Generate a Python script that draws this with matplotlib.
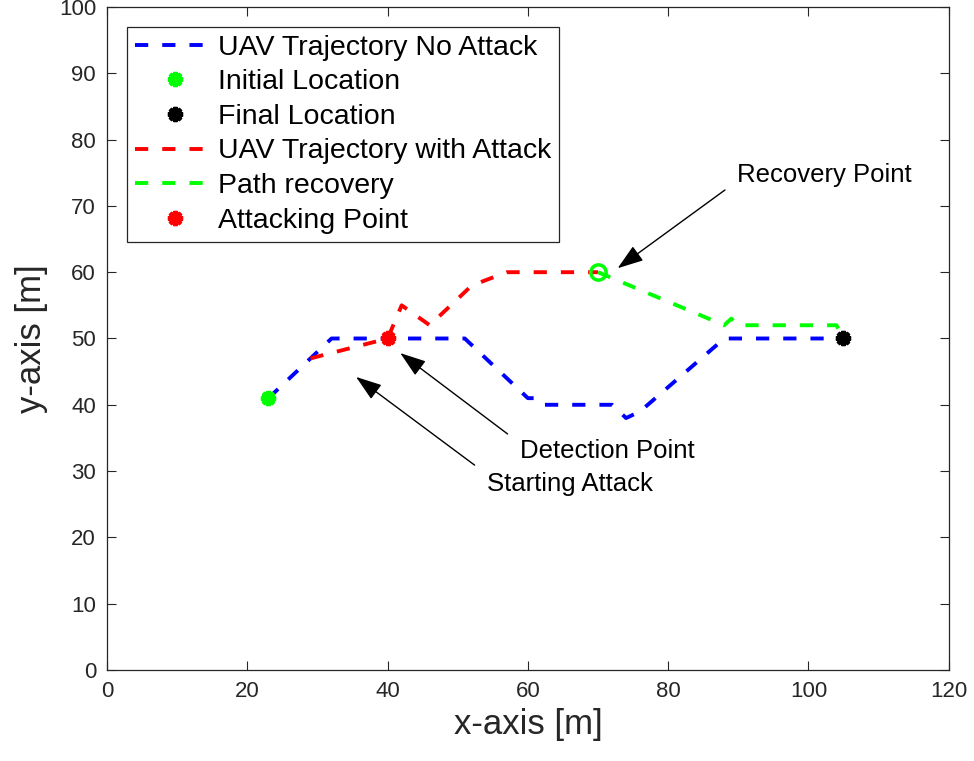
import numpy as np
import matplotlib
matplotlib.use('Agg')
import matplotlib.pyplot as plt

plt.rcParams['font.family'] = ['Liberation Sans', 'DejaVu Sans']

# trajectory without attack
normal_x = [23, 32, 51, 60, 61, 62, 72, 73, 74, 76, 88, 105]
normal_y = [41, 50, 50, 41, 41, 40, 40, 39, 38, 39, 50, 50]

# trajectory under attack
attack_x = [29, 40, 42, 46, 52, 57, 70]
attack_y = [47, 50, 55, 52, 58, 60, 60]

# recovered path
recov_x = [70, 88, 89, 90, 104, 105]
recov_y = [60, 52, 53, 52, 52, 50]

start_pt = (23, 41)
final_pt = (105, 50)
attack_pt = (40, 50)
recovery_pt = (70, 60)

fig = plt.figure(figsize=(9.74, 7.61), dpi=100)
ax = fig.add_axes([0.110, 0.1196, 0.864, 0.8712])

lw = 2.8
dash = (3.4, 3.6)
mk = dict(marker=(8, 2, 0), markersize=11, markeredgewidth=3.0, linestyle='none')

ax.plot(normal_x, normal_y, color='blue', lw=lw, dashes=dash, label='UAV Trajectory No Attack')
ax.plot(*start_pt, color=(0, 1, 0), label='Initial Location', **mk)
ax.plot(*final_pt, color='black', label='Final Location', **mk)
ax.plot(attack_x, attack_y, color='red', lw=lw, dashes=dash, label='UAV Trajectory with Attack')
ax.plot(recov_x, recov_y, color=(0, 1, 0), lw=lw, dashes=dash, label='Path recovery')
ax.plot(*attack_pt, color='red', label='Attacking Point', **mk)
ax.plot(*recovery_pt, marker='o', markersize=11, markerfacecolor='none',
        markeredgecolor=(0, 1, 0), markeredgewidth=2.5, linestyle='none')

arrow = dict(arrowstyle='-|>,head_length=1.6,head_width=0.55', color='black', lw=1,
             shrinkA=0, shrinkB=0)
ax.annotate('', xy=(72.8, 60.6), xytext=(88.1, 72.4), arrowprops=arrow)
ax.annotate('', xy=(41.8, 47.8), xytext=(57.1, 35.6), arrowprops=arrow)
ax.annotate('', xy=(35.5, 44.2), xytext=(52.4, 30.9), arrowprops=arrow)
ax.text(89.8, 74.7, 'Recovery Point', fontsize=18.5, va='center', ha='left')
ax.text(58.9, 33.0, 'Detection Point', fontsize=18.5, va='center', ha='left')
ax.text(54.2, 28.0, 'Starting Attack', fontsize=18.5, va='center', ha='left')

ax.set_xlim(0, 120)
ax.set_ylim(0, 100)
ax.set_xticks(np.arange(0, 121, 20))
ax.set_yticks(np.arange(0, 101, 10))
ax.tick_params(direction='in', length=6.5, width=0.8, top=True, right=True,
               labelsize=16, colors='#262626', pad=8)
for s in ax.spines.values():
    s.set_color('#262626')
    s.set_linewidth(0.9)

ax.set_xlabel('x-axis [m]', fontsize=25, color='#262626', labelpad=4)
ax.set_ylabel('y-axis [m]', fontsize=25, color='#262626', labelpad=8)

leg = ax.legend(loc='upper left', bbox_to_anchor=(0.024, 0.97), fontsize=20.5,
                fancybox=False, framealpha=1, edgecolor='#262626',
                handlelength=2.8, handletextpad=0.1, labelspacing=0.3,
                borderpad=0.28, borderaxespad=0)
leg.get_frame().set_linewidth(0.9)

plt.savefig('out.png', dpi=100)
